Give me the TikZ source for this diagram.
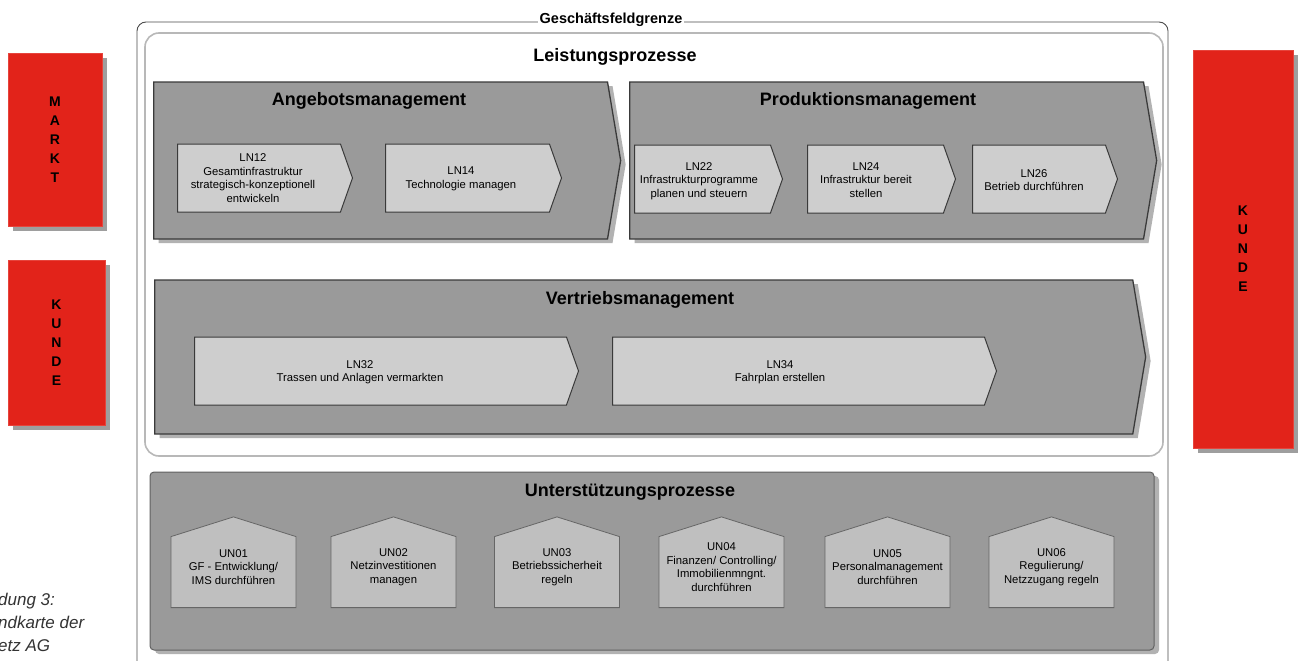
\documentclass[tikz,border=0pt]{standalone}
\usepackage{fontspec}
\setmainfont{Liberation Sans}
\usetikzlibrary{shapes.symbols,shadows}
\definecolor{dbred}{HTML}{E2231A}
\definecolor{procgray}{HTML}{9A9A9A}
\definecolor{stepgray}{HTML}{CECECE}
\definecolor{housegray}{HTML}{BFBFBF}
\definecolor{edgegray}{HTML}{3A3A3A}

\begin{document}
\begin{tikzpicture}[x=1pt, y=-1pt,
    redbox/.style={fill=dbred, draw=dbred!85!white, inner sep=0pt, align=center,
      font=\fontsize{14}{19}\selectfont\bfseries,
      drop shadow={shadow xshift=5pt, shadow yshift=-5pt, fill=black!38, opacity=1}},
    phase/.style={signal, signal to=east, signal from=nowhere, signal pointer angle=161,
      anchor=west, fill=procgray, draw=edgegray, line width=1.3pt, inner sep=0pt,
      drop shadow={shadow xshift=5pt, shadow yshift=-4pt, fill=black!30, opacity=1}},
    lnbox/.style={signal, signal to=east, signal from=nowhere, signal pointer angle=141,
      anchor=west, minimum height=68pt, fill=stepgray, draw=edgegray, line width=1pt, inner sep=0pt},
    unbox/.style={signal, signal to=north, signal from=nowhere, signal pointer angle=145,
      anchor=south, minimum width=125pt, minimum height=71pt, fill=housegray, draw=black!60,
      line width=0.8pt, inner sep=0pt},
    ttl/.style={font=\fontsize{18}{21}\selectfont\bfseries},
    txt/.style={font=\fontsize{11.3}{13.5}\selectfont, align=center, inner sep=0pt}]
  \useasboundingbox[fill=white] (0,0) rectangle (1306,661);
  % ---------------- market and customer ----------------
  \node[redbox, minimum width=94pt, minimum height=173pt] (markt) at (55,139.5) {M\\A\\R\\K\\T};
  \node[redbox, minimum width=97pt, minimum height=165pt] (kundeL) at (56.5,342.5) {K\\U\\N\\D\\E};
  \node[redbox, minimum width=100pt, minimum height=398pt] (kundeR) at (1243,249) {K\\U\\N\\D\\E};
  \node[anchor=west, align=left, inner sep=0pt, text=black!80,
        font=\fontsize{17}{23}\selectfont\itshape] (caption) at (-2,622) {dung 3:\\ndkarte der\\etz AG};
  % ---------------- business boundary ----------------
  \draw[black!70, line width=0.9pt, rounded corners=9pt] (137,22) rectangle (1168,720);
  \node[fill=white, inner xsep=2pt, inner ysep=1pt, font=\fontsize{14.5}{16}\selectfont\bfseries]
    (gfg) at (611,20) {Geschäftsfeldgrenze};
  \draw[black!28, line width=1.6pt, rounded corners=14pt, fill=white] (145,33) rectangle (1163,456);
  \node[ttl] (lp) at (615,57) {Leistungsprozesse};
  % ---------------- row 1: offer and production ----------------
  \node[phase, minimum width=467pt, minimum height=157pt] (angebot) at (153,160.5) {};
  \node[phase, minimum width=527pt, minimum height=157pt] (produktion) at (629,160.5) {};
  \node[ttl] (tangebot) at (369,101) {Angebotsmanagement};
  \node[ttl] (tproduktion) at (868,101) {Produktionsmanagement};
  \node[lnbox, minimum width=175pt] (ln12) at (177,178) {};
  \node[lnbox, minimum width=176pt] (ln14) at (385,178) {};
  \node[lnbox, minimum width=148pt] (ln22) at (634,179) {};
  \node[lnbox, minimum width=148pt] (ln24) at (807,179) {};
  \node[lnbox, minimum width=145pt] (ln26) at (972,179) {};
  \node[txt] (t12) at (253,178) {LN12\\Gesamtinfrastruktur\\strategisch-konzeptionell\\entwickeln};
  \node[txt] (t14) at (461,179) {LN14\\Technologie managen};
  \node[txt] (t22) at (699,181) {LN22\\Infrastrukturprogramme\\planen und steuern};
  \node[txt] (t24) at (866,180) {LN24\\Infrastruktur bereit\\stellen};
  \node[txt] (t26) at (1034,180) {LN26\\Betrieb durchführen};
  % ---------------- row 2: sales ----------------
  \node[phase, minimum width=991pt, minimum height=154pt] (vertrieb) at (154,357) {};
  \node[ttl] (tvertrieb) at (640,300) {Vertriebsmanagement};
  \node[lnbox, minimum width=384pt] (ln32) at (194,371) {};
  \node[lnbox, minimum width=384pt] (ln34) at (612,371) {};
  \node[txt] (t32) at (360,372) {LN32\\Trassen und Anlagen vermarkten};
  \node[txt] (t34) at (780,372) {LN34\\Fahrplan erstellen};
  % ---------------- support processes ----------------
  \draw[edgegray!80, line width=1pt, rounded corners=4pt, fill=procgray,
        drop shadow={shadow xshift=5pt, shadow yshift=-4pt, fill=black!30, opacity=1}]
        (150,472) rectangle (1154,650);
  \node[ttl] (up) at (630,492) {Unterstützungsprozesse};
  \foreach \n/\xc/\lbl in {01/233.5/{GF - Entwicklung/\\IMS durchführen},
                           02/393.5/{Netzinvestitionen\\managen},
                           03/557/{Betriebssicherheit\\regeln},
                           04/721.5/{Finanzen/ Controlling/\\Immobilienmngnt.\\durchführen},
                           05/887.5/{Personalmanagement\\durchführen},
                           06/1051.5/{Regulierung/\\Netzzugang regeln}} {
     \node[unbox] (un\n) at (\xc,608) {};
     \node[txt] (tun\n) at (\xc,567) {UN\n\\\lbl};
  }
\end{tikzpicture}
\end{document}
